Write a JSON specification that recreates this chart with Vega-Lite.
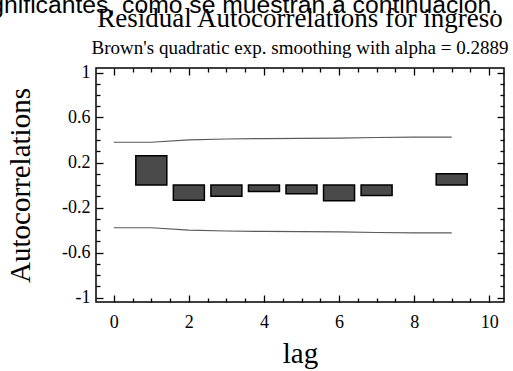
{
  "$schema": "https://vega.github.io/schema/vega-lite/v6.json",
  "width": 408,
  "height": 234,
  "autosize": {"type": "none"},
  "padding": {"left": 96, "top": 68, "right": 9, "bottom": 69},
  "background": "white",
  "config": {
    "locale": {"number": {"decimal": ".", "thousands": ",", "grouping": [3], "currency": ["$", ""], "minus": "-"}},
    "view": {"stroke": "#000", "strokeWidth": 1.5},
    "axis": {"domain": false, "grid": false, "tickColor": "#000", "tickWidth": 1.3, "labelColor": "#000", "labelFont": "Liberation Serif", "labelFontSize": 18, "titleFont": "Liberation Serif", "titleFontWeight": "normal", "titleColor": "#000", "labelOverlap": false}
  },
  "title": {
    "text": "Residual Autocorrelations for ingreso",
    "subtitle": "Brown's quadratic exp. smoothing with alpha = 0.2889",
    "font": "Liberation Serif", "fontSize": 27, "fontWeight": "normal", "color": "#000",
    "subtitleFont": "Liberation Serif", "subtitleFontSize": 19, "subtitleColor": "#000",
    "anchor": "middle", "frame": "group", "offset": -67, "subtitlePadding": 6
  },
  "datasets": {
    "acf": [
      {"lag": 1, "r": 0.26},
      {"lag": 2, "r": -0.135},
      {"lag": 3, "r": -0.099},
      {"lag": 4, "r": -0.057},
      {"lag": 5, "r": -0.078},
      {"lag": 6, "r": -0.14},
      {"lag": 7, "r": -0.094},
      {"lag": 9, "r": 0.099}
    ],
    "limits": [
      {"lag": 0, "upper": 0.38, "lower": -0.38},
      {"lag": 1, "upper": 0.38, "lower": -0.38},
      {"lag": 2, "upper": 0.401, "lower": -0.401},
      {"lag": 3, "upper": 0.409, "lower": -0.409},
      {"lag": 4, "upper": 0.413, "lower": -0.413},
      {"lag": 5, "upper": 0.414, "lower": -0.414},
      {"lag": 6, "upper": 0.416, "lower": -0.416},
      {"lag": 7, "upper": 0.422, "lower": -0.422},
      {"lag": 8, "upper": 0.425, "lower": -0.425},
      {"lag": 9, "upper": 0.425, "lower": -0.425}
    ]
  },
  "layer": [
    {
      "data": {"name": "limits"},
      "mark": {"type": "line", "stroke": "#5a5a5a", "strokeWidth": 1.2},
      "encoding": {
        "x": {"field": "lag", "type": "quantitative", "scale": {"domain": [-0.34, 10.26], "nice": false, "zero": false},
          "axis": {"orient": "top", "labels": false,
            "values": [0,0.5,1,1.5,2,2.5,3,3.5,4,4.5,5,5.5,6,6.5,7,7.5,8,8.5,9,9.5,10],
            "tickSize": {"condition": {"test": "datum.value % 2 === 0", "value": -7}, "value": -4},
            "title": "significantes, como se muestran a continuación.",
            "titleFont": "Liberation Sans", "titleFontSize": 24.7, "titleAngle": 0, "titleAlign": "left", "titleBaseline": "alphabetic", "titleX": -124, "titleY": -56}},
        "y": {"field": "upper", "type": "quantitative", "scale": {"domain": [-1.04, 1.04], "nice": false},
          "axis": {"orient": "right", "labels": false, "title": null,
            "values": [-1,-0.9,-0.8,-0.7,-0.6,-0.5,-0.4,-0.3,-0.2,-0.1,0,0.1,0.2,0.3,0.4,0.5,0.6,0.7,0.8,0.9,1],
            "tickSize": {"condition": {"test": "indexof([-1,-0.6,-0.2,0.2,0.6,1], datum.value) >= 0", "value": -7}, "value": -4}}}
      }
    },
    {
      "data": {"name": "limits"},
      "mark": {"type": "line", "stroke": "#5a5a5a", "strokeWidth": 1.2},
      "encoding": {
        "x": {"field": "lag", "type": "quantitative", "axis": null},
        "y": {"field": "lower", "type": "quantitative", "axis": null}
      }
    },
    {
      "data": {"name": "acf"},
      "mark": {"type": "bar", "orient": "vertical", "size": 31, "fill": "#4a4a4a", "stroke": "#000", "strokeWidth": 1.5},
      "encoding": {
        "x": {"field": "lag", "type": "quantitative",
          "axis": {"orient": "bottom", "format": ".1~f",
            "values": [0,0.5,1,1.5,2,2.5,3,3.5,4,4.5,5,5.5,6,6.5,7,7.5,8,8.5,9,9.5,10],
            "labelExpr": "datum.value % 2 === 0 ? datum.label : ''",
            "tickSize": {"condition": {"test": "datum.value % 2 === 0", "value": -7}, "value": -4},
            "labelPadding": 18,
            "title": "lag", "titleFontSize": 29, "titleAngle": 0, "titleAlign": "center", "titleBaseline": "alphabetic", "titleX": 204, "titleY": 60}},
        "y": {"field": "r", "type": "quantitative",
          "axis": {"orient": "left", "format": ".1~f",
            "values": [-1,-0.9,-0.8,-0.7,-0.6,-0.5,-0.4,-0.3,-0.2,-0.1,0,0.1,0.2,0.3,0.4,0.5,0.6,0.7,0.8,0.9,1],
            "labelExpr": "indexof([-1,-0.6,-0.2,0.2,0.6,1], datum.value) >= 0 ? datum.label : ''",
            "tickSize": {"condition": {"test": "indexof([-1,-0.6,-0.2,0.2,0.6,1], datum.value) >= 0", "value": -7}, "value": -4},
            "labelPadding": 13,
            "title": "Autocorrelations", "titleFontSize": 29, "titleAngle": -90, "titleAlign": "center", "titleBaseline": "middle", "titleX": -76, "titleY": 117}}
      }
    }
  ],
  "resolve": {"axis": {"x": "independent", "y": "independent"}}
}
